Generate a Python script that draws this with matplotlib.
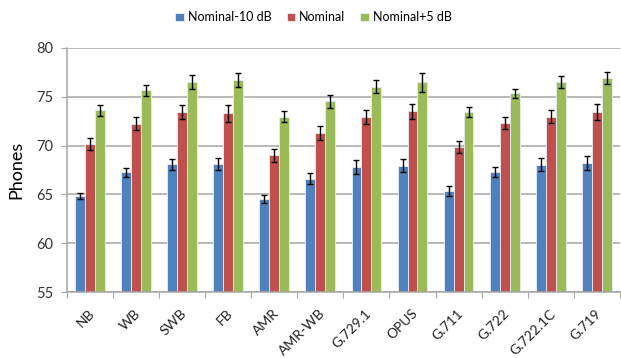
import matplotlib.pyplot as plt
import numpy as np

plt.rcParams["font.family"] = ["Lato", "DejaVu Sans"]

codecs = ["NB", "WB", "SWB", "FB", "AMR", "AMR-WB", "G.729.1", "OPUS",
          "G.711", "G.722", "G.722.1C", "G.719"]
series = ["Nominal-10 dB", "Nominal", "Nominal+5 dB"]

low = [64.85, 67.25, 68.1, 68.1, 64.55, 66.6, 67.8, 67.95, 65.35, 67.3, 68.05, 68.2]
low_err = [0.35, 0.5, 0.55, 0.6, 0.4, 0.55, 0.7, 0.7, 0.5, 0.55, 0.65, 0.72]

nominal = [70.2, 72.25, 73.45, 73.3, 69.0, 71.3, 72.9, 73.5, 69.9, 72.35, 72.95, 73.45]
nominal_err = [0.62, 0.65, 0.7, 0.85, 0.65, 0.72, 0.72, 0.75, 0.62, 0.63, 0.68, 0.82]

high = [73.6, 75.65, 76.5, 76.7, 72.95, 74.55, 76.05, 76.5, 73.45, 75.35, 76.5, 76.95]
high_err = [0.57, 0.56, 0.75, 0.74, 0.58, 0.65, 0.67, 0.98, 0.55, 0.5, 0.62, 0.62]

colors = ["#4F81BD", "#C0504D", "#9BBB59"]


def main():
    fig = plt.figure(figsize=(6.21, 3.58), dpi=100)
    ax = fig.add_axes([0.108, 0.184, 0.89, 0.682])

    x = np.arange(len(codecs))
    w = 0.216
    data = [(low, low_err), (nominal, nominal_err), (high, high_err)]
    for i, (vals, errs) in enumerate(data):
        ax.bar(x + (i - 1) * w, np.array(vals) - 55, width=w, bottom=55,
               color=colors[i], edgecolor="#E8EEF5", linewidth=0.6,
               label=series[i], zorder=2)
        ax.errorbar(x + (i - 1) * w, vals, yerr=errs, fmt="none",
                    ecolor="black", elinewidth=1, capsize=2.5,
                    capthick=1, zorder=3)

    ax.set_ylim(55, 80)
    ax.set_xlim(-0.5, len(codecs) - 0.5)
    ax.set_yticks([55, 60, 65, 70, 75, 80])
    ax.yaxis.grid(True, color="#A6A6A6", linewidth=1.1, zorder=0)
    ax.set_axisbelow(True)

    for s in ["top", "right"]:
        ax.spines[s].set_visible(False)
    for s in ["left", "bottom"]:
        ax.spines[s].set_color("#A6A6A6")
        ax.spines[s].set_linewidth(1.1)

    ax.tick_params(axis="y", length=4, color="#A6A6A6", labelsize=10.5,
                   labelcolor="#333333", pad=6)
    # category ticks sit between the groups, labels at the centers
    ax.set_xticks(np.arange(len(codecs) + 1) - 0.5)
    ax.set_xticklabels([])
    ax.tick_params(axis="x", length=4, color="#A6A6A6")
    for xi, name in zip(x, codecs):
        ax.annotate(name, xy=(xi, 0), xycoords=("data", "axes fraction"),
                    xytext=(2, -14), textcoords="offset points",
                    rotation=45, ha="right", va="center",
                    rotation_mode="anchor", fontsize=10, color="#222222")

    ax.set_ylabel("Phones", fontsize=13, labelpad=8)

    fig.legend(loc="upper center", bbox_to_anchor=(0.505, 1.0), ncol=3,
               frameon=False, fontsize=9, handlelength=0.7, handleheight=0.7,
               handletextpad=0.3, columnspacing=1.2)

    fig.savefig("out.png", dpi=100)


if __name__ == "__main__":
    main()
